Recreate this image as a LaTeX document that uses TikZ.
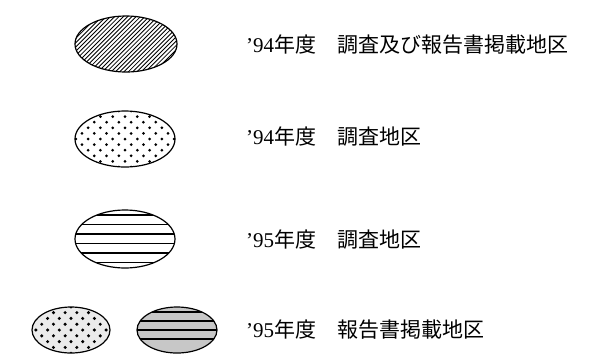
\documentclass[tikz,border=0pt]{standalone}
\usepackage{fontspec}
\setmainfont{Liberation Serif}
\newfontfamily\cjk{Noto Sans CJK JP}
\begin{document}
\begin{tikzpicture}[x=1pt,y=-1pt,
  rim/.style={draw=black,line width=1.2pt},
  hatch/.style={line width=0.85pt},
  lbl/.style={anchor=west,inner sep=0pt,font=\fontsize{21}{25}\selectfont}]
\useasboundingbox (0,0) rectangle (589,360);

% 1: diagonal hatch
\begin{scope}
  \clip (126,44) ellipse [x radius=51,y radius=28];
  \foreach \i in {-28,...,28}
    \draw[hatch] ({126+\i*4.3-40},84) -- ({126+\i*4.3+40},4);
\end{scope}
\draw[rim] (126,44) ellipse [x radius=51,y radius=28];

% 2: dots
\begin{scope}
  \clip (125,139) ellipse [x radius=50,y radius=28];
  \foreach \i in {-6,...,6}
    \foreach \j in {-5,...,5}
      \fill ({125+\j*12.3+6.15*mod(abs(\i),2)},{139+\i*5.6}) circle (1.5);
\end{scope}
\draw[rim] (125,139) ellipse [x radius=50,y radius=28];

% 3: horizontal lines
\begin{scope}
  \clip (125,239) ellipse [x radius=50,y radius=29];
  \foreach \k in {-24,-14.5,-5,4.5,14,23.5}
    \draw[line width=1.1pt] (70,{239+\k}) -- (180,{239+\k});
\end{scope}
\draw[rim] (125,239) ellipse [x radius=50,y radius=29];

% 4a: light dotted
\begin{scope}
  \clip (71,330) ellipse [x radius=39,y radius=23];
  \fill[black!8] (30,305) rectangle (112,355);
  \foreach \i in {-5,...,5}
    \foreach \j in {-4,...,4}
      \fill ({71+\j*11.7+5.85*mod(abs(\i),2)},{330+\i*5.8}) circle (1.7);
\end{scope}
\draw[rim] (71,330) ellipse [x radius=39,y radius=23];

% 4b: gray with lines
\begin{scope}
  \clip (177,330) ellipse [x radius=40,y radius=23];
  \fill[black!22] (135,305) rectangle (220,355);
  \foreach \k in {-18,-9,0,9}
    \draw[line width=1.1pt] (135,{330+\k}) -- (220,{330+\k});
\end{scope}
\draw[rim] (177,330) ellipse [x radius=40,y radius=23];

% labels
\node[lbl] (t1) at (246,45) {\char"27 94{\cjk 年度\hspace{1em}調査及び報告書掲載地区}};
\node[lbl] (t2) at (246,137) {\char"27 94{\cjk 年度\hspace{1em}調査地区}};
\node[lbl] (t3) at (246,240) {\char"27 95{\cjk 年度\hspace{1em}調査地区}};
\node[lbl] (t4) at (246,330) {\char"27 95{\cjk 年度\hspace{1em}報告書掲載地区}};
\end{tikzpicture}
\end{document}
